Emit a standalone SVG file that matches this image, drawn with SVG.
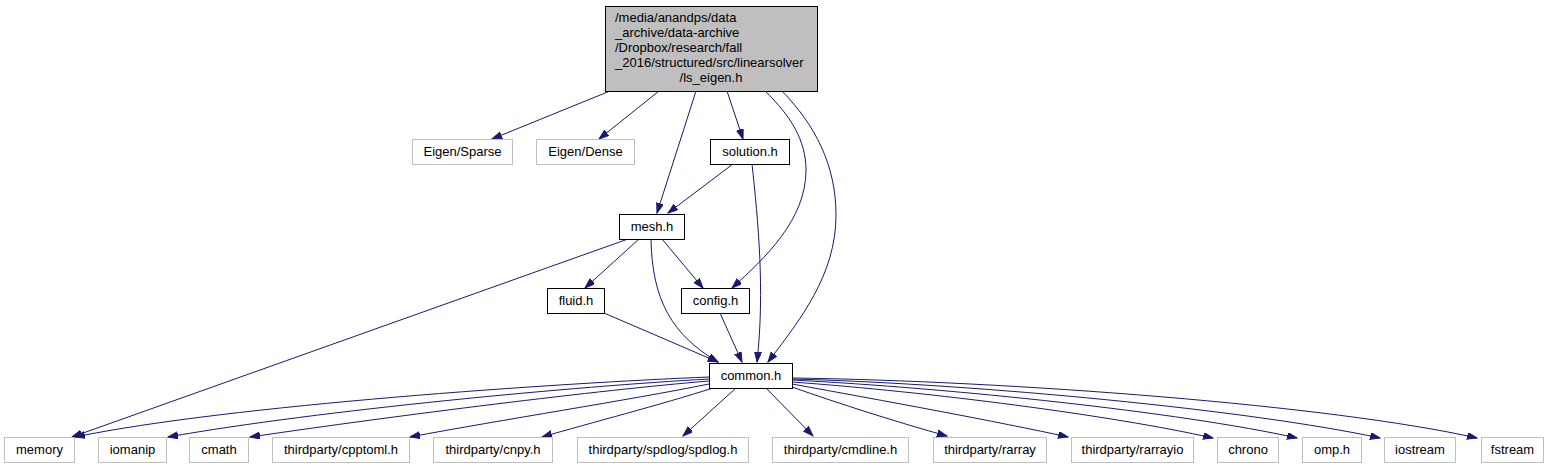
<svg xmlns="http://www.w3.org/2000/svg" width="1553" height="469" viewBox="0 0 1553 469">
<style>
text{font-family:"Liberation Sans",Arial,sans-serif;font-size:13px;fill:#000}
.c{text-anchor:middle}
.ext rect{fill:#fff;stroke:#bfbfbf;stroke-width:1}
.int rect{fill:#fff;stroke:#000;stroke-width:1}
#edges path{fill:none;stroke:#191970;stroke-width:1;marker-end:url(#ah)}
</style>
<defs>
<marker id="ah" markerUnits="userSpaceOnUse" markerWidth="11" markerHeight="8" refX="10" refY="3.5" orient="auto">
<path d="M0,0 L10,3.5 L0,7 z" fill="#191970" stroke="#191970" stroke-width="1"/>
</marker>
</defs>
<rect width="1553" height="469" fill="#fff"/>
<g id="edges">
<path d="M610,91 L492,139"/>
<path d="M659,91 L599,139"/>
<path d="M696,91 L657,213"/>
<path d="M727,91 L743,139"/>
<path d="M765,91 C790,115 806,140 806,170 C806,220 765,258 732,288"/>
<path d="M782,91 C815,125 836,165 836,215 C836,275 800,320 768,362"/>
<path d="M733,164 L668,213"/>
<path d="M752,164 C758,220 765,290 757,362"/>
<path d="M628,239 L72,437"/>
<path d="M639,239 L585,288"/>
<path d="M662,239 L703,288"/>
<path d="M651,239 C652,300 672,335 718,362"/>
<path d="M604,313 L718,362"/>
<path d="M720,313 L742,362"/>
<path d="M709,377 C560,383 230,405 75,437"/>
<path d="M709,379 C580,386 320,410 168,437"/>
<path d="M709,381 C600,390 400,415 250,437"/>
<path d="M709,384 C630,400 500,420 410,437"/>
<path d="M713,388 C660,405 590,423 542,437"/>
<path d="M736,388 L683,436"/>
<path d="M766,388 L813,436"/>
<path d="M792,387 C840,404 900,423 947,436"/>
<path d="M792,384 C880,400 1000,422 1068,437"/>
<path d="M792,382 C930,392 1110,415 1213,438"/>
<path d="M792,380 C950,388 1180,412 1297,438"/>
<path d="M792,379 C980,384 1250,410 1380,438"/>
<path d="M792,378 C1010,381 1330,405 1477,438"/>
</g>
<g id="ls_eigen">
<rect x="605.5" y="6.5" width="212" height="85" fill="#bfbfbf" stroke="#000"/>
<text x="615" y="22">/media/anandps/data</text>
<text x="615" y="37">_archive/data-archive</text>
<text x="615" y="52">/Dropbox/research/fall</text>
<text x="615" y="67">_2016/structured/src/linearsolver</text>
<text x="711" y="82" class="c">/ls_eigen.h</text>
</g>
<g id="eigen_sparse" class="ext"><rect x="412.5" y="139.5" width="100" height="25"/><text x="462.5" y="156" class="c">Eigen/Sparse</text></g>
<g id="eigen_dense" class="ext"><rect x="536.5" y="139.5" width="98" height="25"/><text x="585.5" y="156" class="c">Eigen/Dense</text></g>
<g id="solution" class="int"><rect x="710.5" y="139.5" width="79" height="25"/><text x="750" y="156" class="c">solution.h</text></g>
<g id="mesh" class="int"><rect x="619.5" y="214.5" width="65" height="25"/><text x="652" y="231" class="c">mesh.h</text></g>
<g id="fluid" class="int"><rect x="547.5" y="288.5" width="57" height="25"/><text x="576" y="305" class="c">fluid.h</text></g>
<g id="config" class="int"><rect x="681.5" y="288.5" width="68" height="25"/><text x="715.5" y="305" class="c">config.h</text></g>
<g id="common" class="int"><rect x="709.5" y="363.5" width="83" height="25"/><text x="751" y="380" class="c">common.h</text></g>
<g id="memory" class="ext"><rect x="4.5" y="437.5" width="70" height="25"/><text x="39.5" y="454" class="c">memory</text></g>
<g id="iomanip" class="ext"><rect x="98.5" y="437.5" width="68" height="25"/><text x="132.5" y="454" class="c">iomanip</text></g>
<g id="cmath" class="ext"><rect x="189.5" y="437.5" width="59" height="25"/><text x="219" y="454" class="c">cmath</text></g>
<g id="cpptoml" class="ext"><rect x="272.5" y="437.5" width="137" height="25"/><text x="341" y="454" class="c">thirdparty/cpptoml.h</text></g>
<g id="cnpy" class="ext"><rect x="433.5" y="437.5" width="119" height="25"/><text x="493" y="454" class="c">thirdparty/cnpy.h</text></g>
<g id="spdlog" class="ext"><rect x="577.5" y="437.5" width="171" height="25"/><text x="663" y="454" class="c">thirdparty/spdlog/spdlog.h</text></g>
<g id="cmdline" class="ext"><rect x="772.5" y="437.5" width="136" height="25"/><text x="840.5" y="454" class="c">thirdparty/cmdline.h</text></g>
<g id="rarray" class="ext"><rect x="933.5" y="437.5" width="113" height="25"/><text x="990" y="454" class="c">thirdparty/rarray</text></g>
<g id="rarrayio" class="ext"><rect x="1071.5" y="437.5" width="122" height="25"/><text x="1132.5" y="454" class="c">thirdparty/rarrayio</text></g>
<g id="chrono" class="ext"><rect x="1217.5" y="437.5" width="61" height="25"/><text x="1248" y="454" class="c">chrono</text></g>
<g id="omp" class="ext"><rect x="1302.5" y="437.5" width="59" height="25"/><text x="1332" y="454" class="c">omp.h</text></g>
<g id="iostream" class="ext"><rect x="1384.5" y="437.5" width="71" height="25"/><text x="1420" y="454" class="c">iostream</text></g>
<g id="fstream" class="ext"><rect x="1481.5" y="437.5" width="62" height="25"/><text x="1512.5" y="454" class="c">fstream</text></g>
</svg>
